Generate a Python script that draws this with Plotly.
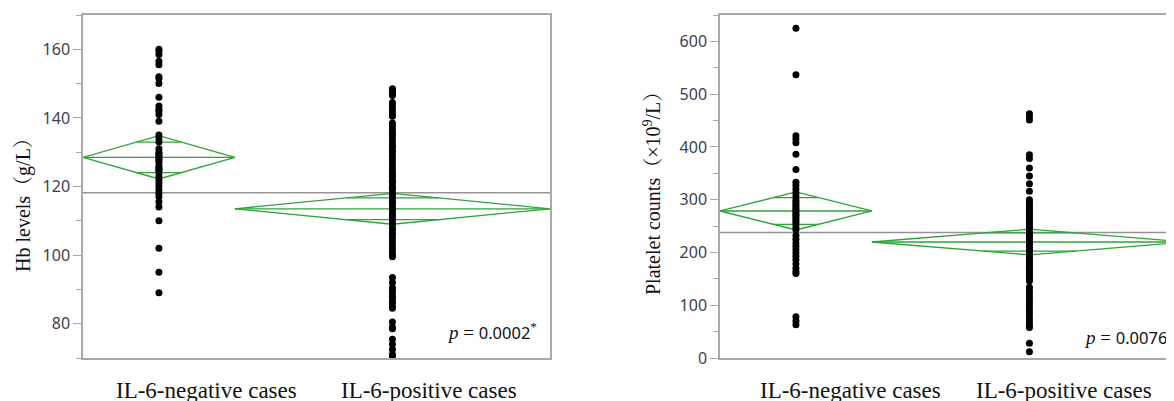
import math
import plotly.graph_objects as go

# ---------------- data ----------------
groups = ["IL-6-negative cases", "IL-6-positive cases"]
group_n = [40, 83]  # relative group sizes (diamond widths)

hb_neg = [160, 159.5, 158.5, 156.5, 155.5, 152, 151.5, 150, 146, 143.5, 142.5, 142,
          141, 139, 135, 134, 133, 131, 130, 129.5, 129, 128.5, 128, 127.5, 127, 126,
          125.5, 125, 124.5, 124, 123, 122, 121, 120, 119, 118, 117, 115.5, 114,
          110, 102, 95, 89]
hb_pos = [148.5, 148, 147.5, 147, 146.5, 144.5, 144, 143, 142, 141, 140.5, 138.5,
          137.5, 136.5, 135.5, 135, 134, 133, 132, 131.5, 130.5, 130, 129, 128, 127,
          126, 125, 124, 123.5, 123, 122, 121.5, 121, 120, 119.5, 119, 118, 117.5,
          117, 116, 115.5, 115, 114, 113.5, 113, 112, 111.5, 111, 110, 109, 108,
          107.5, 106.5, 106, 105, 104, 103, 102, 101, 100, 99.5, 93.5, 92, 90.5, 90,
          89, 88, 87.5, 86.5, 86, 85, 84.5, 80.5, 79, 78.5, 75.5, 74, 72.5, 71, 70.5]
hb_means = [128.5, 113.5]
hb_ci = [6.3, 4.5]
hb_grand = 118.2

plt_neg = [625, 537, 421, 415, 408, 386, 357, 333, 327, 320, 313, 307, 300, 296,
           292, 288, 284, 280, 277, 273, 270, 266, 262, 258, 254, 248, 243, 232,
           225, 218, 212, 205, 199, 193, 186, 178, 170, 164, 160, 78, 70, 63]
plt_pos = [463, 457, 451, 385, 378, 360, 345, 330, 316, 300, 295, 290, 286, 282,
           278, 274, 270, 266, 262, 258, 254, 250, 246, 242, 238, 234, 230, 226,
           222, 218, 214, 210, 206, 202, 198, 194, 190, 186, 182, 178, 174, 170,
           166, 162, 158, 154, 150, 146, 134, 128, 122, 116, 110, 104, 98, 92, 86,
           80, 74, 68, 62, 58, 28, 12]
plt_means = [278.6, 219.8]
plt_ci = [36.0, 24.3]
plt_grand = 237.6

p_values = ["0.0002", "0.0076"]
y_titles = ["Hb levels（g/L）", "Platelet counts（×10<sup>9</sup>/L）"]

# ---------------- styling / layout ----------------
OFF = 8                      # page body margin
PW, PHT = 1174, 401          # page size
W, H = PW - OFF, PHT - OFF   # figure size
PLOT_TOP, PLOT_BOT = 15, 358  # page pixels
MT = PLOT_TOP - OFF
MB = H - (PLOT_BOT - OFF)
PH = H - MT - MB
GREEN = "#2fa33a"
AXIS = "#a9a9a9"
TICKC = "#3e3e4e"

tot = sum(group_n)
edges = [0.0]
for n in group_n:
    edges.append(edges[-1] + n / tot)

fig = go.Figure()


def add_panel(xa, ya, neg, pos, means, ci, grand):
    fig.add_trace(go.Scatter(x=[0, 1], y=[grand, grand], mode="lines",
                             line=dict(color="#959595", width=1.5),
                             xaxis=xa, yaxis=ya, showlegend=False, hoverinfo="skip"))
    k = 1 - 1 / math.sqrt(2)
    for i in range(2):
        L, R = edges[i], edges[i + 1]
        C = (L + R) / 2
        m, c = means[i], ci[i]
        half = (R - L) / 2 * k
        xs = [L, C, R, C, L, None, L, R, None,
              C - half, C + half, None, C - half, C + half]
        ys = [m, m + c, m, m - c, m, None, m, m, None,
              m + c / math.sqrt(2), m + c / math.sqrt(2), None,
              m - c / math.sqrt(2), m - c / math.sqrt(2)]
        fig.add_trace(go.Scatter(x=xs, y=ys, mode="lines",
                                 line=dict(color=GREEN, width=1.3),
                                 xaxis=xa, yaxis=ya, showlegend=False, hoverinfo="skip"))
    for i, vals in enumerate([neg, pos]):
        C = (edges[i] + edges[i + 1]) / 2
        fig.add_trace(go.Scatter(x=[C] * len(vals), y=vals, mode="markers",
                                 marker=dict(color="black", size=7),
                                 xaxis=xa, yaxis=ya, showlegend=False))


add_panel("x", "y", hb_neg, hb_pos, hb_means, hb_ci, hb_grand)
add_panel("x2", "y2", plt_neg, plt_pos, plt_means, plt_ci, plt_grand)


def px_x(p):
    return (p - OFF) / W


def px_y(p):
    return (H - MB - (p - OFF)) / PH


left_dom = [px_x(83), px_x(550)]
right_dom = [px_x(720), 1.0]
right_visible = (PW - 720) / 467.0

xcommon = dict(showgrid=False, zeroline=False, showticklabels=False, ticks="",
               showline=True, linecolor=AXIS, linewidth=1.5, mirror=True, fixedrange=True)
ycommon = dict(showgrid=False, zeroline=False, showline=True, linecolor=AXIS, linewidth=1.5,
               ticks="outside", ticklen=8, tickcolor=AXIS, tickwidth=1.2,
               tickfont=dict(family="Noto Sans", size=16, color=TICKC))

fig.update_layout(
    width=W, height=H,
    margin=dict(l=0, r=0, t=MT, b=MB),
    paper_bgcolor="white", plot_bgcolor="white",
    xaxis=dict(domain=left_dom, range=[0, 1], anchor="y", **xcommon),
    xaxis2=dict(domain=right_dom, range=[0, right_visible], anchor="y2", **xcommon),
    yaxis=dict(domain=[0, 1], range=[70, 170], anchor="x", tickvals=[80, 100, 120, 140, 160],
               mirror=True,
               minor=dict(dtick=10, tick0=0, ticks="outside", ticklen=5, tickcolor=AXIS),
               **ycommon),
    yaxis2=dict(domain=[0, 1], range=[0, 650], anchor="x2",
                tickvals=[0, 100, 200, 300, 400, 500, 600],
                minor=dict(dtick=50, tick0=0, ticks="outside", ticklen=5, tickcolor=AXIS),
                **ycommon),
)

ann = []
label_centers = [[206.5, 429], [850, 1063.5]]
for centers in label_centers:
    for cx, g in zip(centers, groups):
        ann.append(dict(x=px_x(cx), y=px_y(391), xref="paper", yref="paper", text=g,
                        showarrow=False, xanchor="center", yanchor="middle",
                        font=dict(family="Liberation Serif", size=23, color="#111")))
for cx, cy, t in [(23, 200, y_titles[0]), (652, 189, y_titles[1])]:
    ann.append(dict(x=px_x(cx), y=px_y(cy), xref="paper", yref="paper", text=t, textangle=-90,
                    showarrow=False, xanchor="center", yanchor="middle",
                    font=dict(family="Liberation Serif, Noto Serif CJK SC, Noto Sans CJK SC",
                              size=20, color="#111")))
for sx, sy, pv in [(445, 331.7, p_values[0]), (1082, 336.7, p_values[1])]:
    ann.append(dict(x=px_x(sx), y=px_y(sy), xref="paper", yref="paper",
                    text="<i>p</i> = <span style='font-family:Noto Sans;font-size:16.5px'>" + pv +
                         "</span><sup>*</sup>",
                    showarrow=False, xanchor="left", yanchor="middle",
                    font=dict(family="Liberation Serif", size=19, color="#111")))
fig.update_layout(annotations=ann)

fig.write_html("out.html")
